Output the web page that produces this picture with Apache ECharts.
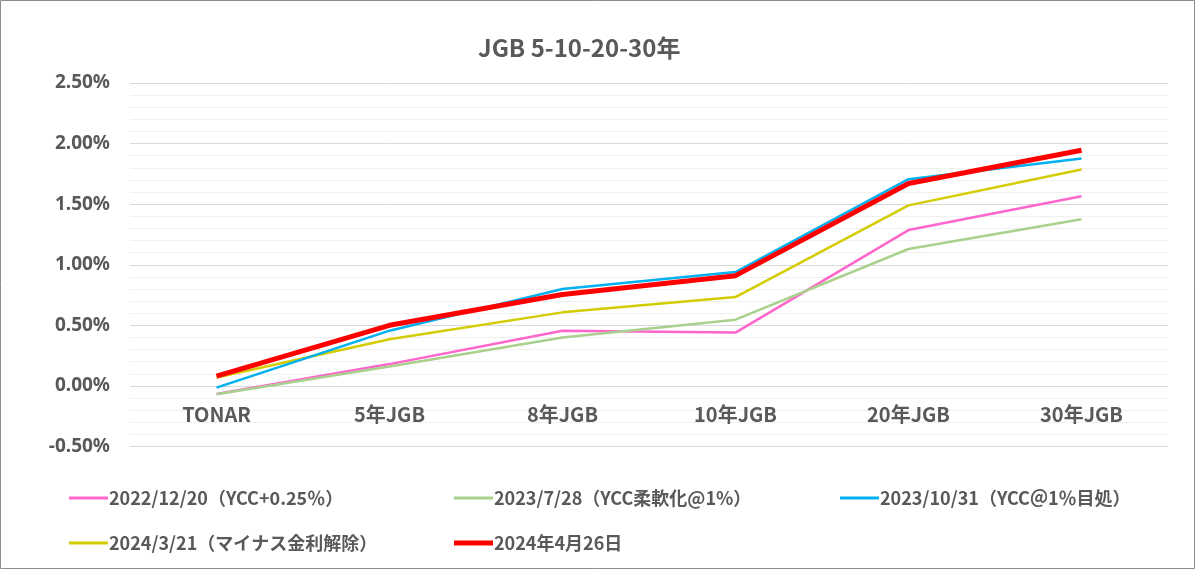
<!DOCTYPE html>
<html><head><meta charset="utf-8">
<script src="https://cdn.jsdelivr.net/npm/echarts@6/dist/echarts.min.js"></script>
<style>html,body{margin:0;padding:0;background:#fff}#c{width:1200px;height:571px}</style>
</head><body><div id="c"></div>
<script>
var categories = ['TONAR','5年JGB','8年JGB','10年JGB','20年JGB','30年JGB'];
var seriesNames = ['2022/12/20（YCC+0.25％）','2023/7/28（YCC柔軟化@1%）','2023/10/31（YCC＠1％目処）','2024/3/21（マイナス金利解除）','2024年4月26日'];
var s20221220 = [-0.066, 0.18, 0.456, 0.44, 1.286, 1.566];
var s20230728 = [-0.069, 0.16, 0.40, 0.547, 1.13, 1.376];
var s20231031 = [-0.014, 0.456, 0.80, 0.94, 1.706, 1.876];
var s20240321 = [0.07, 0.385, 0.607, 0.733, 1.49, 1.786];
var s20240426 = [0.08, 0.50, 0.755, 0.91, 1.67, 1.945];
var yTicks = [-0.5, 0, 0.5, 1.0, 1.5, 2.0, 2.5];

var colors = ['#FF66CC','#A9D18E','#00B0F0','#D4CC00','#FF0000'];
var widths = [2.5,2.5,2.5,2.5,5];
var data = [s20221220,s20230728,s20231031,s20240321,s20240426];
var fontFam = '"Noto Sans CJK JP","Noto Sans",sans-serif';
var latinFam = '"Noto Sans","Noto Sans CJK JP",sans-serif';

var legendPos = [[64,484],[449,484],[835,484],[64,529],[449,529]];
var legends = seriesNames.map(function(n,i){
  return {
    data:[n], left:legendPos[i][0], top:legendPos[i][1],
    icon:'rect', itemWidth:39, itemHeight:i===4?5:3, itemGap:0,
    textStyle:{fontFamily:fontFam,fontSize:18,fontWeight:'bold',color:'#595959',padding:[0,0,0,-4]}
  };
});

var gridTop = 83, gridBottom = 124.5, plotH = 571 - gridTop - gridBottom;
var yMin = yTicks[0], yMax = yTicks[yTicks.length-1];
var zeroOffset = -plotH * (0 - yMin) / (yMax - yMin);

var chart = echarts.init(document.getElementById('c'));
chart.setOption({
  animation:false,
  backgroundColor:'#fff',
  title:{text:'JGB 5-10-20-30年', left:473, top:31,
    textStyle:{fontFamily:fontFam,fontSize:24,fontWeight:'bold',color:'#595959'}},
  legend:legends,
  grid:{left:130,right:32,top:gridTop,bottom:gridBottom,containLabel:false},
  xAxis:{type:'category',data:categories,boundaryGap:true,offset:zeroOffset,
    axisLine:{show:false},
    axisTick:{show:false},
    axisLabel:{margin:18,fontFamily:fontFam,fontSize:20,fontWeight:'bold',color:'#595959'}},
  yAxis:{type:'value',min:yMin,max:yMax,interval:0.5,
    axisLine:{show:false},axisTick:{show:false},
    axisLabel:{margin:20,fontFamily:latinFam,fontSize:19,fontWeight:'bold',color:'#595959',
      formatter:function(v){return v.toFixed(2)+'%';}},
    splitLine:{show:true,lineStyle:{color:'#D9D9D9',width:1}},
    minorTick:{show:false,splitNumber:5},
    minorSplitLine:{show:true,lineStyle:{color:'#F0F0F0',width:1}}},
  series:seriesNames.map(function(n,i){
    return {name:n,type:'line',data:data[i],symbol:'none',z:i===4?5:(i===2?4:2),
      lineStyle:{color:colors[i],width:widths[i]},itemStyle:{color:colors[i]}};
  }),
  graphic:[{type:'rect',shape:{x:0.5,y:0.5,width:1194,height:568},
    style:{fill:null,stroke:'#8C8C8C',lineWidth:1},silent:true}]
});
</script></body></html>
